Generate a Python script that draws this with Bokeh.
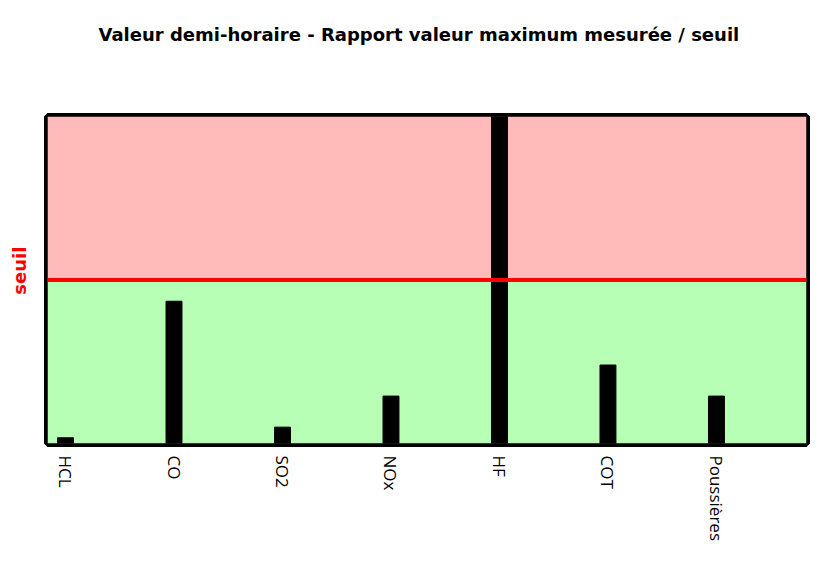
import math
from bokeh.plotting import figure
from bokeh.models import Range1d, FixedTicker, BoxAnnotation, Span, Title
from bokeh.embed import file_html
from bokeh.resources import INLINE

categories = ["HCL", "CO", "SO2", "NOx", "HF", "COT", "Poussières"]
ratios = [0.035, 0.87, 0.10, 0.29, 2.5, 0.48, 0.29]
seuil = 1.0
y_max = 2.0

xs = list(range(len(categories)))

p = figure(width=811, height=546, output_backend="svg", toolbar_location=None,
           x_range=Range1d(-0.166, 6.83), y_range=Range1d(0, y_max),
           min_border_left=47, min_border_right=5, min_border_top=116,
           min_border_bottom=103)
p.background_fill_color = "white"
p.border_fill_color = "white"
p.grid.visible = False

p.add_layout(BoxAnnotation(bottom=0, top=seuil, fill_color="#B7FFB4", fill_alpha=1, line_alpha=0, level="underlay"))
p.add_layout(BoxAnnotation(bottom=seuil, top=y_max, fill_color="#FFBABA", fill_alpha=1, line_alpha=0, level="underlay"))

p.add_layout(Span(location=seuil, dimension="width", line_color="red", line_width=4))

p.outline_line_color = "black"
p.outline_line_width = 7
p.outline_line_alpha = 1

p.vbar(x=xs, top=ratios, bottom=0, width=0.147, fill_color="black", line_color="black")

ya = p.yaxis[0]
ya.ticker = FixedTicker(ticks=[])
ya.axis_line_color = None
ya.major_tick_line_color = None
ya.minor_tick_line_color = None
ya.major_label_text_font_size = "0px"
ya.axis_label = "\u00a0\u00a0\u00a0seuil"
ya.axis_label_text_color = "red"
ya.axis_label_text_font = "DejaVu Sans"
ya.axis_label_text_font_style = "bold"
ya.axis_label_text_font_size = "18px"
ya.axis_label_standoff = 18

xa = p.xaxis[0]
xa.ticker = FixedTicker(ticks=xs)
xa.major_label_overrides = {i: c for i, c in enumerate(categories)}
xa.major_label_orientation = -math.pi / 2
xa.axis_line_color = None
xa.major_tick_line_color = None
xa.minor_tick_line_color = None
xa.major_label_text_font = "Open Sans"
xa.major_label_text_font_size = "17px"
xa.major_label_text_color = "black"
xa.major_label_standoff = 6

spacer = Title(text=" ", text_font_size="10px", standoff=44)
p.add_layout(spacer, "above")
t = Title(text="Valeur demi-horaire - Rapport valeur maximum mesurée / seuil",
          align="left", offset=51, text_font="DejaVu Sans", text_font_style="bold",
          text_font_size="18px", text_color="black", standoff=30)
p.add_layout(t, "above")

open("out.html", "w").write(file_html(p, INLINE))
